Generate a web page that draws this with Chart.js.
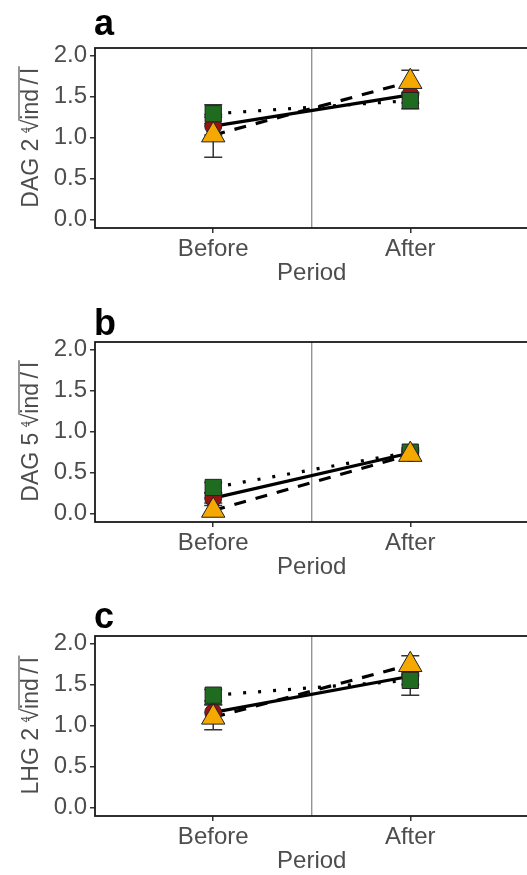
<!DOCTYPE html>
<html>
<head>
<meta charset="utf-8">
<script src="https://cdn.jsdelivr.net/npm/chart.js@4.4.1/dist/chart.umd.min.js"></script>
<style>
  html, body { margin: 0; padding: 0; background: #fff; overflow: hidden; }
  .panel { width: 543px; height: 294px; }
</style>
</head>
<body>
<div class="panel"><canvas id="panelA" width="543" height="294"></canvas></div>
<div class="panel"><canvas id="panelB" width="543" height="294"></canvas></div>
<div class="panel"><canvas id="panelC" width="543" height="294"></canvas></div>
<script>
const periods = ['Before', 'After'];
const yTicks = [0, 0.5, 1.0, 1.5, 2.0];

// a: DAG 2
const dag2Square = [1.29, 1.45];
const dag2SquareLow = [1.17, 1.35];
const dag2SquareHigh = [1.40, 1.54];
const dag2Circle = [1.14, 1.52];
const dag2CircleLow = [1.03, 1.42];
const dag2CircleHigh = [1.25, 1.62];
const dag2Triangle = [1.03, 1.68];
const dag2TriangleLow = [0.76, 1.55];
const dag2TriangleHigh = [1.28, 1.82];

// b: DAG 5
const dag5Square = [0.32, 0.75];
const dag5SquareLow = [0.26, 0.70];
const dag5SquareHigh = [0.38, 0.80];
const dag5Circle = [0.19, 0.74];
const dag5CircleLow = [0.13, 0.70];
const dag5CircleHigh = [0.25, 0.78];
const dag5Triangle = [0.04, 0.72];
const dag5TriangleLow = [0.00, 0.68];
const dag5TriangleHigh = [0.10, 0.76];

// c: LHG 2
const lhg2Square = [1.37, 1.55];
const lhg2SquareLow = [1.30, 1.37];
const lhg2SquareHigh = [1.44, 1.64];
const lhg2Circle = [1.16, 1.60];
const lhg2CircleLow = [1.06, 1.50];
const lhg2CircleHigh = [1.26, 1.70];
const lhg2Triangle = [1.10, 1.74];
const lhg2TriangleLow = [0.95, 1.62];
const lhg2TriangleHigh = [1.25, 1.85];

const seriesColors = ['#1f6b1f', '#9a1212', '#f5a800'];
const seriesShapes = ['rect', 'circle', 'triangle'];
const seriesRadius = [11.5, 8.5, 13.5];
const seriesDash = [[3, 12], [], [12, 10]];
const markerOrder = [1, 2, 0];

const FONT = '"Liberation Sans", Arial, sans-serif';
const GREY = '#4d4d4d';
Chart.defaults.font.family = FONT;

// frame, centre line at x = 1.5 and error bars, all under the marks
const backdrop = {
  id: 'backdrop',
  beforeDatasetsDraw(chart) {
    const { ctx, chartArea: a, scales: { x, y } } = chart;
    ctx.save();
    ctx.strokeStyle = '#808080';
    ctx.lineWidth = 1.2;
    ctx.beginPath();
    ctx.moveTo(x.getPixelForValue(1.5), a.top);
    ctx.lineTo(x.getPixelForValue(1.5), a.bottom);
    ctx.stroke();

    ctx.strokeStyle = '#1a1a1a';
    ctx.lineWidth = 1.8;
    ctx.strokeRect(a.left, a.top, a.right - a.left, a.bottom - a.top);

    ctx.strokeStyle = '#333';
    ctx.lineWidth = 1.5;
    chart.data.datasets.forEach(ds => {
      if (!ds.errLow) return;
      ds.errLow.forEach((lo, i) => {
        const px = x.getPixelForValue(i + 1);
        const y0 = y.getPixelForValue(lo);
        const y1 = y.getPixelForValue(ds.errHigh[i]);
        ctx.beginPath();
        ctx.moveTo(px, y0); ctx.lineTo(px, y1);
        ctx.moveTo(px - 9, y0); ctx.lineTo(px + 9, y0);
        ctx.moveTo(px - 9, y1); ctx.lineTo(px + 9, y1);
        ctx.stroke();
      });
    });
    ctx.restore();
  }
};

// panel letter and the root-transformed y axis title
const panelText = {
  id: 'panelText',
  afterDraw(chart, args, opts) {
    const { ctx, chartArea: a } = chart;
    ctx.save();
    ctx.fillStyle = '#000';
    ctx.font = 'bold 36px ' + FONT;
    ctx.textBaseline = 'alphabetic';
    ctx.fillText(opts.letter, a.left - 1, opts.letterY);

    ctx.translate(30, (a.top + a.bottom) / 2);
    ctx.rotate(-Math.PI / 2);
    ctx.fillStyle = GREY;
    ctx.strokeStyle = GREY;
    const big = '23px ' + FONT;
    const small = '11px ' + FONT;
    const prefix = opts.prefix + ' ';
    const body = 'ind\u2009/\u2009l';
    ctx.font = big;
    const wPre = ctx.measureText(prefix).width;
    const wRad = ctx.measureText('\u221A').width;
    const wBody = ctx.measureText(body).width;
    const total = wPre + wRad + wBody;
    let cx = -total / 2;
    const base = 8;
    ctx.fillText(prefix, cx, base);
    cx += wPre;
    ctx.font = small;
    ctx.fillText('4', cx - 1, base - 9);
    ctx.font = big;
    ctx.fillText('\u221A', cx, base);
    cx += wRad;
    ctx.fillText(body, cx, base);
    ctx.lineWidth = 1.2;
    ctx.beginPath();
    ctx.moveTo(cx - 1, base - 19);
    ctx.lineTo(cx + wBody + 2, base - 19);
    ctx.stroke();
    ctx.restore();
  }
};

function makePanel(id, letter, letterY, prefix, means, lows, highs) {
  const lines = means.map((m, i) => ({
    data: m.map((v, j) => ({ x: j + 1, y: v })),
    borderColor: '#000',
    borderWidth: 3.2,
    borderDash: seriesDash[i],
    borderCapStyle: 'butt',
    pointRadius: 0,
    showLine: true,
    order: 10 + i,
    clip: false
  }));
  const markers = means.map((m, i) => ({
    data: m.map((v, j) => ({ x: j + 1, y: v })),
    showLine: false,
    pointStyle: seriesShapes[i],
    pointRadius: seriesRadius[i],
    pointBackgroundColor: seriesColors[i],
    pointBorderColor: '#222',
    pointBorderWidth: 1,
    order: markerOrder[i],
    clip: false,
    errLow: lows[i],
    errHigh: highs[i]
  }));

  return new Chart(document.getElementById(id), {
    type: 'line',
    data: { datasets: lines.concat(markers) },
    plugins: [backdrop, panelText],
    options: {
      responsive: false,
      animation: false,
      events: [],
      layout: { padding: { top: 48, left: 0, right: 0, bottom: 0 } },
      plugins: {
        legend: { display: false },
        tooltip: { enabled: false },
        panelText: { letter: letter, letterY: letterY, prefix: prefix }
      },
      scales: {
        x: {
          type: 'linear',
          min: 0.4,
          max: 2.6,
          afterBuildTicks: s => { s.ticks = periods.map((p, i) => ({ value: i + 1 })); },
          afterFit: s => { s.height = 66; },
          ticks: {
            callback: v => periods[v - 1],
            color: GREY,
            font: { size: 24 },
            padding: 2,
            autoSkip: false,
            maxRotation: 0
          },
          grid: { drawOnChartArea: false, tickLength: 5, color: '#333', lineWidth: 1.5 },
          border: { display: false },
          title: {
            display: true,
            text: 'Period',
            color: GREY,
            font: { size: 24 },
            padding: { top: 0, bottom: 6 }
          }
        },
        y: {
          min: -0.1,
          max: 2.09,
          afterBuildTicks: s => { s.ticks = yTicks.map(v => ({ value: v })); },
          afterFit: s => { s.width = 95; },
          ticks: {
            callback: v => v.toFixed(1),
            color: GREY,
            font: { size: 24 },
            padding: 3
          },
          grid: { drawOnChartArea: false, tickLength: 5, color: '#333', lineWidth: 1.5 },
          border: { display: false }
        }
      }
    }
  });
}

makePanel('panelA', 'a', 35, 'DAG 2',
  [dag2Square, dag2Circle, dag2Triangle],
  [dag2SquareLow, dag2CircleLow, dag2TriangleLow],
  [dag2SquareHigh, dag2CircleHigh, dag2TriangleHigh]);

makePanel('panelB', 'b', 41, 'DAG 5',
  [dag5Square, dag5Circle, dag5Triangle],
  [dag5SquareLow, dag5CircleLow, dag5TriangleLow],
  [dag5SquareHigh, dag5CircleHigh, dag5TriangleHigh]);

makePanel('panelC', 'c', 40, 'LHG 2',
  [lhg2Square, lhg2Circle, lhg2Triangle],
  [lhg2SquareLow, lhg2CircleLow, lhg2TriangleLow],
  [lhg2SquareHigh, lhg2CircleHigh, lhg2TriangleHigh]);
</script>
</body>
</html>
